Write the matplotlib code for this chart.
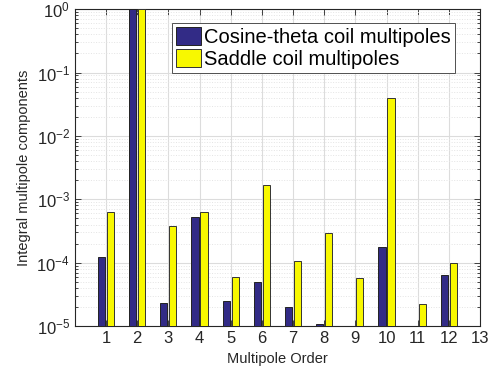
import numpy as np
import matplotlib.pyplot as plt
from matplotlib.ticker import LogLocator, NullFormatter

plt.rcParams['font.family'] = ['Liberation Sans', 'DejaVu Sans']

orders = np.arange(1, 13)
cosine_theta = [1.24e-4, 1.0, 2.3e-5, 5.2e-4, 2.47e-5, 5.0e-5,
                2.0e-5, 1.09e-5, np.nan, 1.74e-4, np.nan, 6.3e-5]
saddle = [6.4e-4, 1.0, 3.8e-4, 6.4e-4, 6.0e-5, 1.7e-3,
          1.06e-4, 2.96e-4, 5.8e-5, 3.9e-2, 2.23e-5, 9.8e-5]

fig = plt.figure(figsize=(4.99, 3.81), dpi=100)
ax = fig.add_axes([0.150, 0.144, 0.812, 0.832])

w = 0.23
off = 0.145
ax.bar(orders - off, cosine_theta, w, color='#322b86', edgecolor='#222222',
       linewidth=0.7, label='Cosine-theta coil multipoles', zorder=3)
ax.bar(orders + off, saddle, w, color='#f8f800', edgecolor='#333333',
       linewidth=0.7, label='Saddle coil multipoles', zorder=3)

ax.set_yscale('log')
ax.set_ylim(1e-5, 1)
ax.set_xlim(0, 13)
ax.set_xticks(np.arange(1, 14))
ax.yaxis.set_major_locator(LogLocator(base=10, numticks=10))
ax.yaxis.set_minor_locator(LogLocator(base=10, subs=np.arange(2, 10), numticks=10))
ax.yaxis.set_minor_formatter(NullFormatter())

ax.grid(True, which='major', color='#dcdcdc', linewidth=0.8, zorder=0)
ax.grid(True, which='minor', axis='y', color='#e4e4e4', linestyle=':', linewidth=0.7, zorder=0)
ax.set_axisbelow(True)

ax.tick_params(which='both', direction='in', top=True, right=True, labelsize=12,
               colors='#262626', width=0.6)
ax.tick_params(which='major', length=4)
ax.tick_params(which='minor', length=2)
for s in ax.spines.values():
    s.set_color('#262626')
    s.set_linewidth(0.8)

ax.set_xlabel('Multipole Order', fontsize=10.5, color='#262626')
ax.set_ylabel('Integral multipole components', fontsize=10.5, color='#262626')

leg = ax.legend(loc='upper right', bbox_to_anchor=(0.938, 0.957), fontsize=14.5,
                fancybox=False, framealpha=1, edgecolor='#505050',
                handlelength=1.25, handleheight=1.0, borderpad=0.2,
                borderaxespad=0, labelspacing=0.1, handletextpad=0.15)
leg.get_frame().set_linewidth(0.7)

fig.savefig('out.png', dpi=100)
